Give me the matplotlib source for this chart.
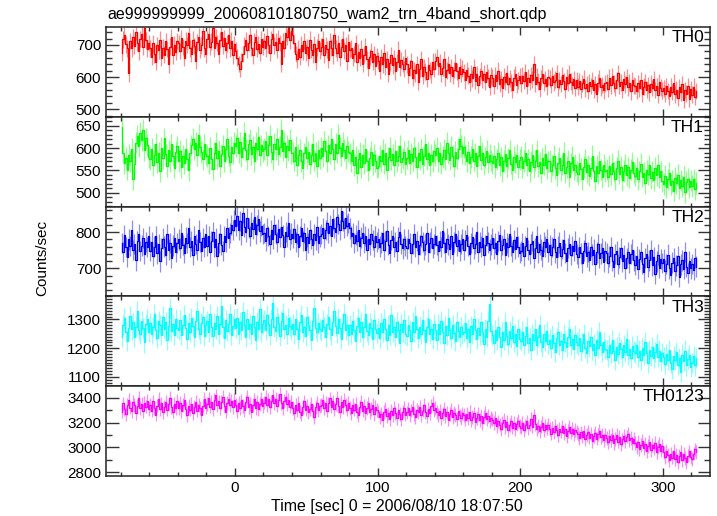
import numpy as np
import matplotlib.pyplot as plt
from matplotlib.ticker import MultipleLocator

plt.rcParams['font.family'] = ['Liberation Sans', 'DejaVu Sans']

# 1 s bins, t = -79.5 ... 323.5
time = np.arange(-79.5, 324, 1.0)

th0 = [676, 718, 731, 702, 689, 612, 712, 690, 725, 698, 741, 707, 680, 719, 733, 695, 752, 714, 688, 706,
       690, 662, 705, 671, 648, 700, 683, 716, 659, 692, 670, 711, 687, 640, 695, 724, 668, 701, 679, 712,
       705, 681, 722, 694, 660, 713, 700, 738, 689, 672, 716, 697, 651, 708, 726, 684, 699, 745, 690, 671,
       718, 733, 695, 710, 752, 689, 724, 706, 671, 715, 740, 698, 722, 684, 705, 731, 690, 713, 668, 702,
       682, 660, 641, 625, 650, 672, 698, 715, 684, 706, 731, 692, 668, 710, 724, 687, 703, 676, 719, 695,
       712, 690, 728, 701, 676, 718, 735, 699, 710, 684, 722, 706, 641, 712, 690, 738, 725, 756, 714, 744,
       730, 705, 672, 655, 688, 663, 701, 680, 712, 676, 694, 660, 717, 685, 670, 703, 648, 692, 711, 682,
       695, 718, 670, 700, 686, 653, 712, 692, 668, 730, 689, 676, 705, 661, 694, 718, 682, 700, 649, 708,
       684, 690, 660, 672, 705, 646, 678, 659, 688, 641, 670, 697, 655, 628, 662, 680, 648, 672, 633, 666,
       651, 620, 662, 640, 676, 632, 655, 610, 644, 668, 637, 659, 618, 647, 685, 630, 652, 641, 625, 660,
       640, 606, 628, 650, 598, 621, 612, 640, 585, 626, 655, 603, 630, 617, 594, 636, 622, 608, 648, 625,
       650, 662, 633, 645, 610, 628, 655, 599, 621, 640, 612, 630, 604, 622, 645, 618, 596, 632, 610, 626,
       615, 590, 622, 604, 583, 611, 596, 630, 588, 609, 575, 603, 620, 592, 610, 585, 616, 598, 570, 605,
       598, 572, 605, 588, 620, 579, 594, 565, 601, 586, 612, 577, 596, 583, 560, 598, 609, 575, 590, 603,
       580, 604, 589, 615, 572, 598, 585, 606, 592, 640, 578, 601, 586, 563, 597, 610, 582, 594, 571, 600,
       596, 575, 604, 583, 592, 612, 568, 590, 578, 605, 587, 562, 599, 581, 610, 586, 574, 593, 566, 590,
       570, 588, 562, 580, 595, 565, 578, 556, 584, 572, 590, 561, 577, 548, 582, 596, 568, 575, 559, 580,
       585, 563, 598, 574, 602, 580, 566, 590, 612, 572, 584, 560, 593, 577, 600, 568, 582, 555, 590, 574,
       572, 556, 580, 565, 590, 548, 570, 585, 561, 575, 552, 579, 566, 594, 560, 571, 545, 583, 567, 558,
       565, 548, 572, 556, 540, 570, 553, 582, 546, 561, 535, 568, 552, 577, 528, 560, 548, 572, 531, 563,
       545, 570, 538, 556]

th1 = [648, 590, 566, 578, 552, 584, 570, 598, 530, 565, 612, 628, 605, 634, 618, 640, 596, 622, 607, 580,
       575, 598, 561, 584, 610, 569, 590, 548, 601, 577, 622, 586, 560, 595, 571, 608, 583, 556, 592, 604,
       570, 593, 558, 582, 567, 598, 575, 550, 589, 606, 621, 598, 612, 584, 630, 603, 591, 575, 608, 586,
       582, 566, 600, 575, 553, 590, 612, 578, 594, 560, 586, 605, 571, 597, 620, 583, 568, 602, 589, 611,
       605, 622, 590, 613, 581, 600, 634, 596, 575, 608, 619, 587, 602, 570, 612, 597, 625, 584, 606, 593,
       598, 615, 584, 606, 628, 591, 575, 610, 597, 620, 586, 603, 640, 594, 612, 580, 605, 596, 618, 589,
       590, 572, 602, 561, 584, 596, 570, 555, 588, 603, 577, 592, 565, 584, 610, 572, 589, 560, 595, 578,
       600, 582, 615, 594, 570, 606, 588, 621, 597, 575, 609, 590, 630, 601, 583, 612, 596, 578, 604, 592,
       588, 570, 596, 562, 581, 545, 575, 590, 558, 584, 567, 599, 572, 550, 578, 592, 563, 585, 571, 556,
       560, 582, 571, 596, 565, 588, 552, 579, 600, 574, 586, 561, 593, 570, 583, 605, 568, 577, 591, 564,
       578, 595, 566, 587, 572, 601, 580, 558, 589, 574, 597, 565, 583, 608, 576, 590, 562, 585, 571, 593,
       584, 600, 571, 590, 565, 580, 596, 575, 612, 588, 574, 603, 582, 560, 591, 577, 598, 620, 605, 589,
       602, 585, 570, 591, 566, 580, 597, 572, 588, 560, 583, 605, 574, 590, 563, 579, 594, 568, 585, 572,
       566, 583, 558, 575, 590, 562, 579, 548, 571, 586, 560, 577, 595, 565, 552, 580, 568, 584, 557, 574,
       580, 556, 571, 590, 562, 575, 548, 569, 584, 557, 572, 595, 560, 568, 545, 577, 563, 586, 555, 570,
       572, 548, 561, 583, 555, 540, 567, 578, 551, 563, 590, 545, 558, 571, 536, 566, 580, 552, 562, 547,
       541, 566, 553, 530, 558, 575, 546, 561, 538, 555, 583, 549, 527, 560, 544, 570, 552, 535, 563, 548,
       552, 536, 560, 541, 566, 548, 530, 555, 571, 543, 558, 528, 549, 563, 540, 557, 534, 552, 568, 545,
       538, 556, 530, 548, 565, 536, 544, 522, 550, 541, 561, 533, 547, 529, 555, 540, 563, 535, 548, 526,
       520, 538, 512, 530, 545, 518, 526, 505, 533, 521, 540, 510, 528, 515, 536, 502, 524, 531, 512, 527,
       515, 530, 508, 522]

th2 = [770, 745, 792, 758, 731, 780, 762, 805, 750, 768, 722, 776, 795, 748, 763, 784, 740, 772, 758, 790,
       748, 772, 735, 760, 788, 741, 766, 719, 755, 782, 760, 737, 794, 752, 770, 728, 763, 785, 746, 770,
       780, 756, 798, 765, 742, 785, 770, 812, 758, 775, 736, 790, 768, 752, 805, 772, 748, 783, 760, 795,
       762, 788, 744, 775, 800, 758, 782, 735, 770, 795, 765, 748, 790, 772, 812, 785, 798, 820, 806, 832,
       818, 845, 805, 830, 792, 852, 815, 800, 838, 812, 790, 826, 808, 842, 796, 820, 835, 802, 816, 794,
       798, 776, 812, 790, 768, 805, 782, 820, 795, 772, 808, 786, 815, 792, 760, 801, 788, 826, 780, 796,
       784, 808, 772, 795, 760, 790, 812, 775, 798, 752, 786, 770, 805, 781, 765, 794, 778, 815, 770, 788,
       795, 812, 784, 805, 826, 798, 818, 790, 835, 812, 800, 842, 822, 806, 858, 830, 812, 840, 818, 825,
       810, 788, 798, 770, 792, 776, 805, 762, 785, 798, 770, 790, 752, 782, 766, 795, 778, 760, 788, 772,
       782, 760, 771, 798, 752, 776, 804, 765, 743, 779, 790, 758, 772, 749, 786, 801, 768, 755, 780, 762,
       755, 781, 770, 742, 768, 795, 758, 776, 739, 764, 788, 772, 750, 766, 797, 745, 771, 783, 756, 768,
       790, 764, 748, 776, 759, 802, 771, 745, 782, 766, 753, 788, 740, 772, 795, 761, 777, 749, 768, 781,
       751, 777, 792, 762, 740, 770, 786, 755, 768, 799, 746, 773, 760, 785, 738, 764, 790, 771, 752, 766,
       783, 755, 769, 740, 776, 792, 750, 764, 781, 737, 770, 758, 795, 762, 745, 778, 754, 786, 760, 742,
       748, 770, 735, 762, 785, 751, 739, 768, 776, 729, 757, 790, 744, 766, 752, 733, 772, 760, 781, 745,
       765, 738, 758, 782, 744, 730, 760, 771, 735, 754, 778, 742, 720, 757, 768, 736, 761, 748, 775, 740,
       730, 758, 741, 715, 749, 770, 733, 745, 722, 760, 738, 752, 711, 744, 767, 729, 741, 756, 718, 748,
       742, 716, 733, 758, 721, 705, 739, 748, 712, 730, 755, 719, 736, 700, 728, 744, 715, 739, 752, 722,
       710, 735, 698, 725, 745, 712, 690, 728, 740, 705, 722, 750, 708, 731, 685, 719, 738, 702, 726, 715,
       725, 694, 712, 738, 700, 681, 716, 729, 692, 708, 734, 676, 711, 722, 698, 745, 703, 688, 719, 700,
       712, 695, 728, 705]

th3 = [1240, 1282, 1305, 1258, 1226, 1270, 1312, 1265, 1290, 1238, 1275, 1330, 1262, 1248, 1295, 1271, 1220, 1285, 1302, 1256,
       1288, 1250, 1275, 1318, 1262, 1235, 1296, 1280, 1245, 1310, 1268, 1292, 1228, 1276, 1340, 1259, 1283, 1247, 1300, 1270,
       1262, 1298, 1245, 1280, 1315, 1270, 1232, 1289, 1256, 1305, 1278, 1240, 1294, 1330, 1266, 1251, 1287, 1310, 1243, 1279,
       1295, 1258, 1320, 1274, 1241, 1288, 1266, 1312, 1250, 1283, 1345, 1272, 1236, 1298, 1260, 1285, 1318, 1247, 1276, 1302,
       1270, 1305, 1248, 1290, 1262, 1325, 1279, 1238, 1300, 1266, 1285, 1250, 1312, 1274, 1229, 1291, 1268, 1336, 1257, 1283,
       1298, 1262, 1315, 1284, 1246, 1302, 1358, 1275, 1260, 1309, 1288, 1242, 1296, 1322, 1268, 1281, 1250, 1305, 1277, 1265,
       1285, 1248, 1302, 1268, 1232, 1290, 1316, 1258, 1275, 1244, 1310, 1282, 1262, 1228, 1295, 1340, 1270, 1255, 1288, 1266,
       1260, 1298, 1272, 1238, 1285, 1310, 1265, 1247, 1292, 1330, 1276, 1252, 1300, 1269, 1233, 1288, 1318, 1262, 1279, 1245,
       1282, 1250, 1296, 1264, 1225, 1278, 1305, 1258, 1290, 1238, 1272, 1320, 1261, 1245, 1286, 1270, 1232, 1299, 1266, 1254,
       1270, 1235, 1288, 1256, 1302, 1265, 1228, 1280, 1246, 1315, 1258, 1274, 1240, 1292, 1262, 1218, 1283, 1255, 1297, 1250,
       1244, 1280, 1262, 1225, 1290, 1255, 1312, 1268, 1236, 1275, 1250, 1298, 1263, 1220, 1272, 1301, 1248, 1266, 1232, 1285,
       1262, 1230, 1285, 1250, 1296, 1258, 1218, 1276, 1245, 1305, 1264, 1235, 1280, 1252, 1226, 1290, 1259, 1240, 1274, 1248,
       1255, 1288, 1236, 1265, 1220, 1278, 1250, 1302, 1262, 1232, 1270, 1245, 1290, 1258, 1215, 1268, 1240, 1296, 1352, 1260,
       1245, 1218, 1262, 1230, 1275, 1240, 1205, 1256, 1228, 1290, 1242, 1215, 1260, 1235, 1278, 1222, 1250, 1208, 1266, 1232,
       1225, 1258, 1210, 1242, 1272, 1218, 1236, 1195, 1250, 1230, 1265, 1212, 1240, 1280, 1222, 1205, 1248, 1226, 1260, 1215,
       1230, 1202, 1245, 1218, 1188, 1236, 1258, 1210, 1226, 1195, 1250, 1222, 1205, 1240, 1268, 1212, 1232, 1198, 1245, 1220,
       1210, 1236, 1192, 1218, 1248, 1200, 1182, 1225, 1206, 1240, 1195, 1215, 1175, 1228, 1202, 1255, 1210, 1188, 1222, 1198,
       1195, 1170, 1212, 1185, 1228, 1192, 1160, 1205, 1180, 1218, 1196, 1168, 1210, 1186, 1232, 1175, 1198, 1165, 1208, 1190,
       1185, 1210, 1168, 1192, 1158, 1200, 1176, 1222, 1182, 1150, 1195, 1172, 1205, 1165, 1188, 1215, 1170, 1192, 1155, 1184,
       1168, 1145, 1180, 1158, 1195, 1150, 1128, 1172, 1160, 1188, 1142, 1165, 1118, 1178, 1155, 1192, 1140, 1162, 1175, 1135,
       1148, 1172, 1140, 1165]

th0123 = [3290, 3355, 3310, 3268, 3340, 3385, 3322, 3296, 3370, 3345, 3280, 3335, 3402, 3318, 3350, 3295, 3362, 3330, 3378, 3312,
          3345, 3298, 3372, 3320, 3265, 3338, 3390, 3312, 3355, 3282, 3330, 3368, 3305, 3350, 3402, 3325, 3290, 3348, 3316, 3375,
          3320, 3362, 3295, 3340, 3385, 3310, 3258, 3332, 3305, 3352, 3280, 3325, 3370, 3298, 3345, 3316, 3262, 3338, 3390, 3322,
          3352, 3395, 3330, 3368, 3312, 3382, 3420, 3345, 3372, 3320, 3365, 3405, 3338, 3290, 3360, 3392, 3342, 3378, 3326, 3385,
          3340, 3295, 3362, 3318, 3380, 3335, 3302, 3370, 3405, 3328, 3352, 3290, 3345, 3388, 3320, 3365, 3310, 3348, 3392, 3335,
          3362, 3405, 3340, 3388, 3325, 3372, 3420, 3355, 3392, 3338, 3380, 3432, 3360, 3318, 3375, 3410, 3348, 3385, 3330, 3365,
          3320, 3275, 3342, 3300, 3358, 3290, 3265, 3328, 3372, 3305, 3338, 3282, 3312, 3352, 3295, 3248, 3325, 3360, 3302, 3335,
          3342, 3380, 3318, 3360, 3298, 3355, 3395, 3330, 3372, 3310, 3348, 3402, 3335, 3290, 3365, 3328, 3384, 3340, 3305, 3358,
          3320, 3278, 3345, 3305, 3352, 3290, 3262, 3330, 3368, 3298, 3335, 3275, 3318, 3355, 3285, 3310, 3345, 3268, 3325, 3300,
          3290, 3245, 3268, 3222, 3285, 3310, 3250, 3275, 3232, 3298, 3262, 3318, 3280, 3240, 3302, 3272, 3228, 3290, 3318, 3265,
          3282, 3315, 3258, 3298, 3330, 3270, 3245, 3302, 3288, 3325, 3262, 3298, 3340, 3285, 3252, 3310, 3278, 3335, 3360, 3300,
          3318, 3285, 3262, 3298, 3240, 3275, 3310, 3252, 3282, 3225, 3268, 3302, 3245, 3280, 3260, 3228, 3292, 3258, 3240, 3275,
          3262, 3225, 3270, 3238, 3285, 3218, 3248, 3275, 3205, 3240, 3268, 3222, 3255, 3198, 3245, 3280, 3228, 3252, 3210, 3238,
          3225, 3198, 3240, 3172, 3210, 3185, 3150, 3198, 3222, 3165, 3205, 3138, 3182, 3210, 3160, 3195, 3148, 3188, 3215, 3172,
          3160, 3195, 3142, 3178, 3210, 3155, 3185, 3230, 3168, 3258, 3190, 3148, 3175, 3132, 3168, 3195, 3140, 3178, 3152, 3185,
          3148, 3112, 3160, 3125, 3175, 3138, 3102, 3152, 3128, 3170, 3115, 3145, 3095, 3132, 3168, 3120, 3150, 3108, 3142, 3125,
          3110, 3075, 3122, 3088, 3130, 3065, 3098, 3125, 3080, 3112, 3052, 3095, 3118, 3072, 3105, 3135, 3085, 3102, 3062, 3098,
          3078, 3042, 3092, 3058, 3100, 3035, 3070, 3098, 3048, 3082, 3025, 3065, 3090, 3052, 3088, 3110, 3060, 3075, 3038, 3072,
          3035, 3002, 3048, 2985, 3022, 3055, 2998, 3030, 2970, 3012, 3042, 2980, 3018, 2992, 3035, 2965, 3005, 3028, 2975, 3010,
          2960, 2925, 2972, 2938, 2895, 2950, 2918, 2975, 2905, 2940, 2882, 2930, 2962, 2900, 2945, 2915, 2880, 2935, 2968, 2922,
          2905, 2950, 2985, 2965]

names = ['TH0', 'TH1', 'TH2', 'TH3', 'TH0123']
series = [th0, th1, th2, th3, th0123]
errs = [26, 24, 28, 35, 55]
colors = ['#ff0000', '#00ff00', '#0000ff', '#00ffff', '#ff00ff']
ylims = [(476, 756), (469, 670), (623, 870), (1068, 1380), (2770, 3494)]
ymajor = [100, 50, 100, 100, 200]
yminor = [20, 10, 20, 10, 100]

W, H = 717, 516
fig = plt.figure(figsize=(W / 100, H / 100), dpi=100)

left, right = 106, 710
top, bottom = 27, 476
ph = (bottom - top) / 5

for i in range(5):
    ax = fig.add_axes([left / W, 1 - (top + (i + 1) * ph) / H,
                       (right - left) / W, ph / H])
    y = np.array(series[i])
    ax.vlines(time, y - errs[i], y + errs[i], color=colors[i], alpha=0.45, lw=0.9)
    ax.plot(time, y, drawstyle='steps-mid', color=colors[i], lw=0.9)
    ax.set_xlim(-90.4, 333.0)
    ax.set_ylim(*ylims[i])
    ax.xaxis.set_major_locator(MultipleLocator(100))
    ax.xaxis.set_minor_locator(MultipleLocator(20))
    ax.yaxis.set_major_locator(MultipleLocator(ymajor[i]))
    ax.yaxis.set_minor_locator(MultipleLocator(yminor[i]))
    ax.tick_params(which='both', direction='in', top=True, right=True,
                   labelsize=11, color='#333333')
    ax.tick_params(axis='x', which='major', length=6, width=1.0)
    ax.tick_params(axis='x', which='minor', length=3, width=1.0)
    ax.tick_params(axis='y', which='major', length=9, width=1.0)
    ax.tick_params(axis='y', which='minor', length=4.5, width=1.0)
    for s in ax.spines.values():
        s.set_linewidth(1.1)
        s.set_color('#222222')
    if i < 4:
        ax.tick_params(axis='x', labelbottom=False)
    ax.text(0.99, 0.88, names[i], transform=ax.transAxes, ha='right',
            va='center', fontsize=12.5)

fig.text(107 / W, 1 - 14 / H, 'ae999999999_20060810180750_wam2_trn_4band_short.qdp',
         ha='left', va='center', fontsize=11.5)
fig.text(42 / W, 1 - 258 / H, 'Counts/sec', rotation=90, ha='center',
         va='center', fontsize=11)
fig.text(397 / W, 1 - 506 / H, 'Time [sec] 0 = 2006/08/10 18:07:50',
         ha='center', va='center', fontsize=11.5)

fig.savefig('out.png', dpi=100)
